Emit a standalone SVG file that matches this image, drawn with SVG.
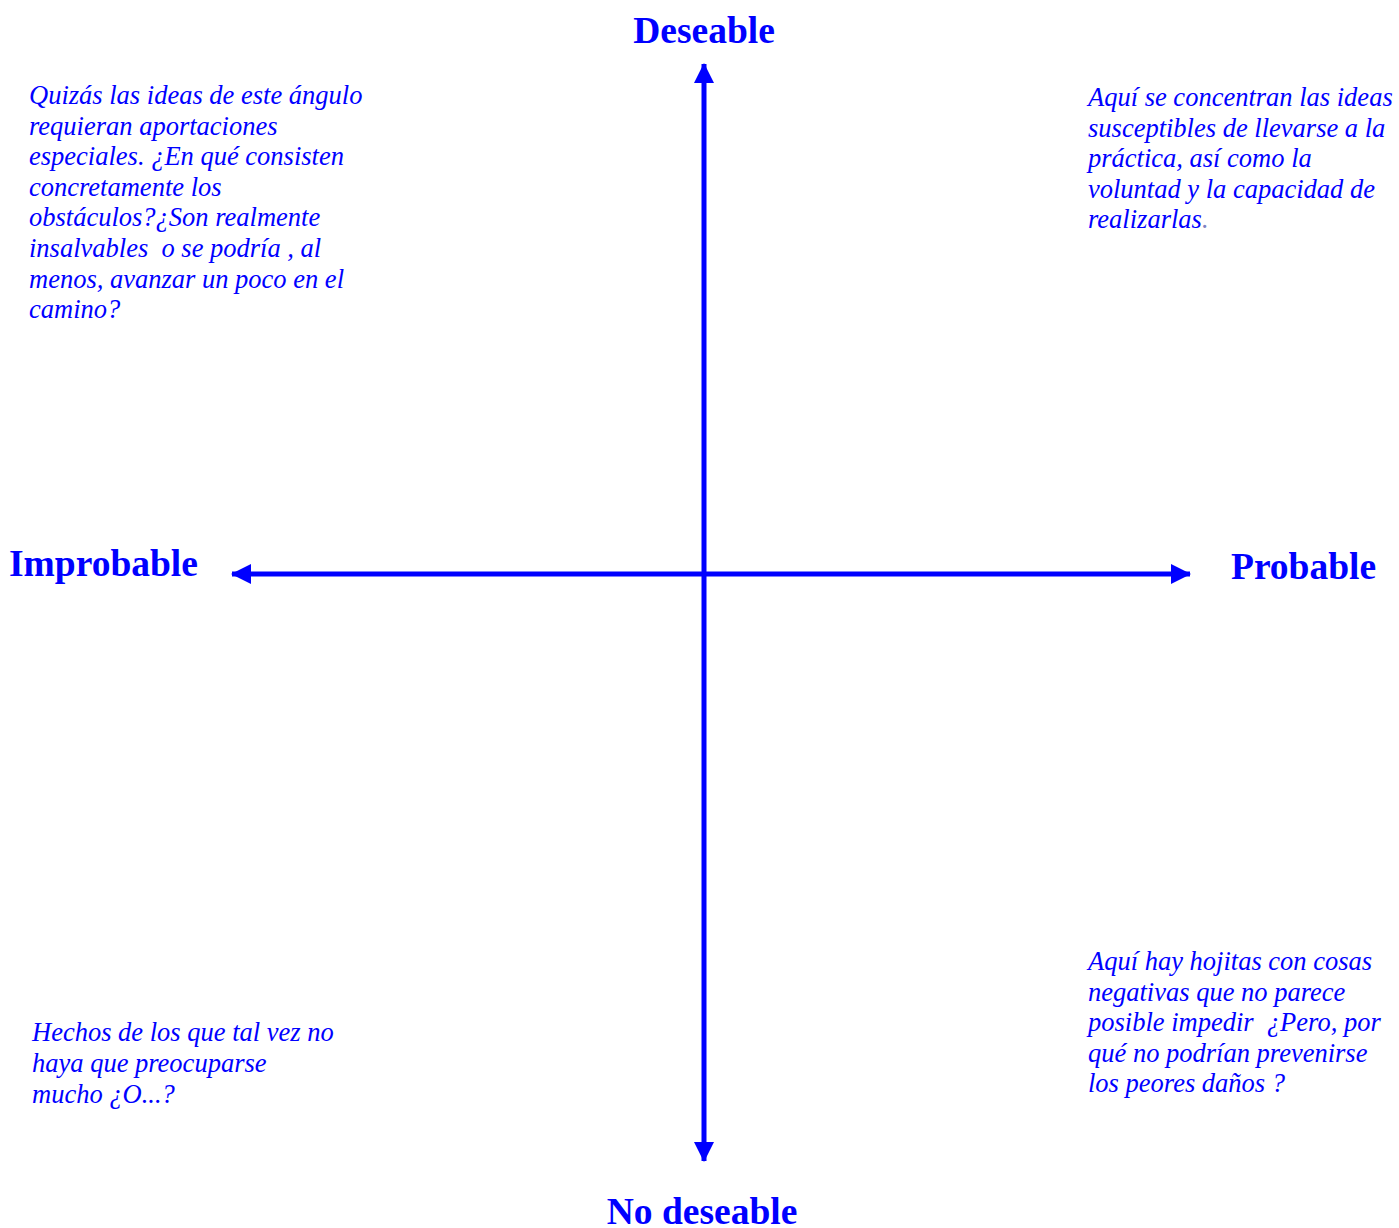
<svg xmlns="http://www.w3.org/2000/svg" width="1399" height="1228" viewBox="0 0 1399 1228">
<style>
.h{font-family:"Liberation Serif","Times New Roman",serif;font-weight:bold;font-size:37.5px;fill:#0000ff}
.t{font-family:"Liberation Serif","Times New Roman",serif;font-style:italic;font-size:26.5px;fill:#0000ff}
.ax{stroke:#0000ff;stroke-width:5;fill:none}
</style>
<defs>
<marker id="ah" markerUnits="userSpaceOnUse" markerWidth="22" markerHeight="22" refX="19" refY="10" orient="auto">
<path d="M0,0 L20,10 L0,20 Z" fill="#0000ff"/>
</marker>
</defs>
<rect width="1399" height="1228" fill="#ffffff"/>
<g id="connectors">
<line class="ax" x1="704" y1="574" x2="704" y2="64" marker-end="url(#ah)"/>
<line class="ax" x1="704" y1="574" x2="704" y2="1161" marker-end="url(#ah)"/>
<line class="ax" x1="704" y1="574" x2="232" y2="574" marker-end="url(#ah)"/>
<line class="ax" x1="704" y1="574" x2="1190" y2="574" marker-end="url(#ah)"/>
</g>
<g id="deseable"><text class="h" x="704" y="43" text-anchor="middle">Deseable</text></g>
<g id="no-deseable"><text class="h" x="702" y="1224" text-anchor="middle">No deseable</text></g>
<g id="improbable"><text class="h" x="9" y="576">Improbable</text></g>
<g id="probable"><text class="h" x="1231" y="579">Probable</text></g>
<g id="q-top-left">
<text class="t" x="29" y="104">Quizás las ideas de este ángulo</text>
<text class="t" x="29" y="134.6">requieran aportaciones</text>
<text class="t" x="29" y="165.2">especiales. ¿En qué consisten</text>
<text class="t" x="29" y="195.8">concretamente los</text>
<text class="t" x="29" y="226.4">obstáculos?¿Son realmente</text>
<text class="t" x="29" y="257" xml:space="preserve">insalvables  o se podría , al</text>
<text class="t" x="29" y="287.6">menos, avanzar un poco en el</text>
<text class="t" x="29" y="318.2">camino?</text>
</g>
<g id="q-top-right">
<text class="t" x="1088" y="106">Aquí se concentran las ideas</text>
<text class="t" x="1088" y="136.6">susceptibles de llevarse a la</text>
<text class="t" x="1088" y="167.2">práctica, así como la</text>
<text class="t" x="1088" y="197.8">voluntad y la capacidad de</text>
<text class="t" x="1088" y="228.4">realizarlas<tspan fill="#8080c0">.</tspan></text>
</g>
<g id="q-bottom-right">
<text class="t" x="1088" y="970">Aquí hay hojitas con cosas</text>
<text class="t" x="1088" y="1000.6">negativas que no parece</text>
<text class="t" x="1088" y="1031.2" xml:space="preserve">posible impedir  ¿Pero, por</text>
<text class="t" x="1088" y="1061.8">qué no podrían prevenirse</text>
<text class="t" x="1088" y="1092.4">los peores daños ?</text>
</g>
<g id="q-bottom-left">
<text class="t" x="32" y="1041">Hechos de los que tal vez no</text>
<text class="t" x="32" y="1072">haya que preocuparse</text>
<text class="t" x="32" y="1103">mucho ¿O...?</text>
</g>
</svg>
